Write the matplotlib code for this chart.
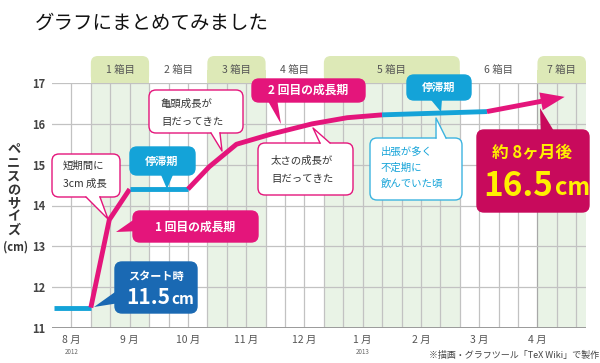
"""ペニスのサイズ推移チャート (TeX Wiki 風) の再現。out.png に保存。"""
import math
import matplotlib
matplotlib.use("Agg")
import matplotlib.pyplot as plt
from matplotlib.patches import FancyBboxPatch, Polygon, Rectangle
from matplotlib.transforms import Affine2D
from matplotlib.lines import Line2D

plt.rcParams['font.family'] = ['Noto Sans CJK JP', 'DejaVu Sans']

PINK = "#e4157b"
CYAN = "#14a3d8"
BLUE = "#1a69b3"
CRIMSON = "#c80a5c"
YELLOW = "#fff000"
SHADE = "#e9f3e6"
TAB = "#dde9b7"
GRID = "#c2c2c2"

# ---- data (x: 10日単位, 2012年7月末から) ----
x = [0.1, 2.0, 2.95, 4.0, 7.0, 8.1, 9.5, 11.3, 13.4, 15.2, 17.0, 22.4, 26.4]
size_cm = [11.5, 11.5, 13.65, 14.4, 14.4, 14.95, 15.5, 15.75, 16.0, 16.15, 16.22, 16.3, 16.66]
# phase of each segment between consecutive points
phase = ["停滞", "成長", "成長", "停滞", "成長", "成長", "成長", "成長", "成長", "成長", "停滞", "成長"]

months = ["8 月", "9 月", "10 月", "11 月", "12 月", "1 月", "2 月", "3 月", "4 月"]
month_x = [1, 4, 7, 10, 13, 16, 19, 22, 25]
years = {"2012": 1, "2013": 16}
box_labels = ["1 箱目", "2 箱目", "3 箱目", "4 箱目", "5 箱目", "6 箱目", "7 箱目"]
box_edges = [2, 5, 8, 11, 14, 21, 25, 27.5]
yticks = [11, 12, 13, 14, 15, 16, 17]

W, H = 600, 363
fig = plt.figure(figsize=(W / 100, H / 100), dpi=100)
fig.patch.set_facecolor("white")
ax = fig.add_axes([52 / W, (H - 328) / H, (586 - 52) / W, (328 - 83) / H])
ax.set_xlim(0, 27.5)
ax.set_ylim(11, 17)
ax.set_facecolor("white")

# reference-pixel transform (origin top-left)
P = Affine2D().scale(1 / W, -1 / H).translate(0, 1) + fig.transFigure

# shaded boxes
for i in range(0, len(box_labels), 2):
    ax.axvspan(box_edges[i], box_edges[i + 1], color=SHADE, lw=0, zorder=0)

# grid
for gx in range(1, 28):
    c = "#a8a8a8" if gx == box_edges[-2] else GRID
    ax.plot([gx, gx], [11, 17], color=c, lw=0.9, zorder=1)
for gy in yticks[1:]:
    ax.axhline(gy, color=GRID, lw=0.9, zorder=1)
ax.axhline(11, color="#9a9a9a", lw=1.4, zorder=2)

for s in ax.spines.values():
    s.set_visible(False)
ax.set_yticks(yticks)
ax.set_yticklabels([str(v) for v in yticks], fontsize=8, fontweight="bold", color="#444")
ax.set_xticks(month_x)
ax.set_xticklabels(months, fontsize=7.5, color="#555")
ax.tick_params(length=0)
ax.tick_params(axis="y", pad=5)
ax.tick_params(axis="x", pad=5)
for yr, gx in years.items():
    ax.text(gx, -0.08, yr, transform=ax.get_xaxis_transform(), ha="center", va="top",
            fontsize=4.5, color="#666")

# ---- the series ----
start = 0
runs = []
for i in range(1, len(phase) + 1):
    if i == len(phase) or phase[i] != phase[start]:
        runs.append((start, i))
        start = i
fig.canvas.draw()
for a, b in runs:
    col = PINK if phase[a] == "成長" else CYAN
    xs, ys = x[a:b + 1], size_cm[a:b + 1]
    if b == len(phase):
        # arrow head on the last segment
        p0 = ax.transData.transform((xs[-2], ys[-2]))
        p1 = ax.transData.transform((xs[-1], ys[-1]))
        d = math.hypot(*(p1 - p0))
        u = (p1 - p0) / d
        n = [-u[1], u[0]]
        L, hw = 24, 9
        base = p1 - L * u
        inv = ax.transData.inverted()
        bx, by = inv.transform(base + 0.5 * u)
        xs = list(xs[:-1]) + [bx]
        ys = list(ys[:-1]) + [by]
        head = [p1, base + [hw * n[0], hw * n[1]], base - [hw * n[0], hw * n[1]]]
        ax.add_patch(Polygon(inv.transform(head), closed=True, fc=col, ec="none", zorder=5))
    ax.plot(xs, ys, color=col, lw=3.5, solid_joinstyle="round", solid_capstyle="butt", zorder=4)

# ---- tabs above the plot ----
for i, lab in enumerate(box_labels):
    x0 = ax.transData.transform((box_edges[i], 11))[0]
    x1 = ax.transData.transform((box_edges[i + 1], 11))[0]
    if i % 2 == 0:
        fig.add_artist(FancyBboxPatch((x0, 56), x1 - x0, 27, boxstyle="round,pad=0,rounding_size=7",
                                      transform=P, fc=TAB, ec="none", zorder=1))
        fig.add_artist(Rectangle((x0, 70), x1 - x0, 13, transform=P, fc=TAB, ec="none", zorder=1))
    fig.text((x0 + x1) / 2, 70, lab, transform=P, ha="center", va="center",
             fontsize=7.5, color="#555", zorder=2)


def callout(box, tail, fc, ec=None, z=6):
    x0, y0, x1, y1 = box
    fig.add_artist(FancyBboxPatch((x0, y0), x1 - x0, y1 - y0, boxstyle="round,pad=0,rounding_size=7",
                                  transform=P, fc=fc, ec=ec or fc, lw=1.0, zorder=z))
    b1, b2, tip = tail
    mx, my = (b1[0] + b2[0]) / 2, (b1[1] + b2[1]) / 2
    d = math.hypot(mx - tip[0], my - tip[1])
    ux, uy = (mx - tip[0]) / d * 2.5, (my - tip[1]) / d * 2.5
    fig.add_artist(Polygon([(b1[0] + ux, b1[1] + uy), (b2[0] + ux, b2[1] + uy), tip],
                           transform=P, fc=fc, ec="none", zorder=z + 0.1))
    if ec:
        fig.add_artist(Line2D([b1[0], tip[0], b2[0]], [b1[1], tip[1], b2[1]], transform=P,
                              color=ec, lw=1.0, zorder=z + 0.2))


def label(px, py, s, **kw):
    kw.setdefault("ha", "center")
    kw.setdefault("va", "center")
    fig.text(px, py, s, transform=P, zorder=8, **kw)


# 短期間に 3cm 成長
callout((52, 154, 120, 197), ((86, 197), (100, 197), (108, 219)), "white", PINK)
label(63, 166, "短期間に", ha="left", fontsize=7.5, color="#333")
label(63, 184, "3cm 成長", ha="left", fontsize=7.5, color="#333")

# 亀頭成長が 目だってきた
callout((149, 90, 243, 133), ((211, 133), (220, 133), (222, 151)), "white", PINK)
label(161, 104, "亀頭成長が", ha="left", fontsize=7.5, color="#333")
label(161, 122, "目だってきた", ha="left", fontsize=7.5, color="#333")

# 停滞期 (1)
callout((130, 147, 195, 175), ((160, 175), (174, 175), (167, 189)), CYAN)
label(162, 161, "停滞期", fontsize=8, fontweight="bold", color="white")

# 1 回目の成長期
callout((133, 211, 258, 242), ((135, 218), (135, 232), (116, 232)), PINK)
label(195, 227, "1 回目の成長期", fontsize=8.5, fontweight="bold", color="white")

# スタート時 11.5cm
callout((115, 262, 197, 313), ((117, 290), (117, 304), (94, 307)), BLUE)
label(156, 276, "スタート時", fontsize=8, fontweight="bold", color="white")
label(170, 298, "11.5", ha="right", fontsize=15, fontweight="bold", color="white")
label(171, 299, "cm", ha="left", fontsize=11, fontweight="bold", color="white")

# 2 回目の成長期
callout((252, 79, 365, 102), ((268, 102), (278, 102), (281, 124)), PINK)
label(308, 90, "2 回目の成長期", fontsize=8.5, fontweight="bold", color="white")

# 太さの成長が 目だってきた
callout((258, 143, 353, 195), ((320, 143), (330, 143), (313, 128)), "white", PINK)
label(271, 161, "太さの成長が", ha="left", fontsize=7.5, color="#333")
label(271, 179, "目だってきた", ha="left", fontsize=7.5, color="#333")

# 停滞期 (2)
callout((407, 75, 471, 100), ((430, 100), (443, 100), (441, 112)), CYAN)
label(439, 87, "停滞期", fontsize=8, fontweight="bold", color="white")

# 出張が多く…
callout((370, 138, 462, 200), ((436, 138), (446, 138), (436, 118)), "white", "#3db4e0")
label(381, 152, "出張が多く", ha="left", fontsize=7.5, color=CYAN)
label(381, 168, "不定期に", ha="left", fontsize=7.5, color=CYAN)
label(381, 184, "飲んでいた頃", ha="left", fontsize=7.5, color=CYAN)

# 約 8ヶ月後 16.5cm
callout((477, 130, 589, 212), ((540, 130), (554, 130), (540, 108)), CRIMSON)
label(532, 152, "約 8ヶ月後", fontsize=12, fontweight="bold", color=YELLOW)
label(553, 186, "16.5", ha="right", fontsize=24, fontweight="bold", color=YELLOW)
label(555, 188, "cm", ha="left", fontsize=17, fontweight="bold", color=YELLOW)

# title, y label, footer
label(35, 23, "グラフにまとめてみました", ha="left", fontsize=14, color="#111")
for k, ch in enumerate("ペニスのサイズ"):
    label(14, 150 + 13.3 * k, ch, fontsize=9.5, fontweight="bold", color="#333")
label(16, 247, "(cm)", fontsize=8, fontweight="bold", color="#333")
label(599, 355, "※描画・グラフツール「TeX Wiki」で製作", ha="right", fontsize=6.5, color="#444")

fig.savefig("out.png", dpi=100)
